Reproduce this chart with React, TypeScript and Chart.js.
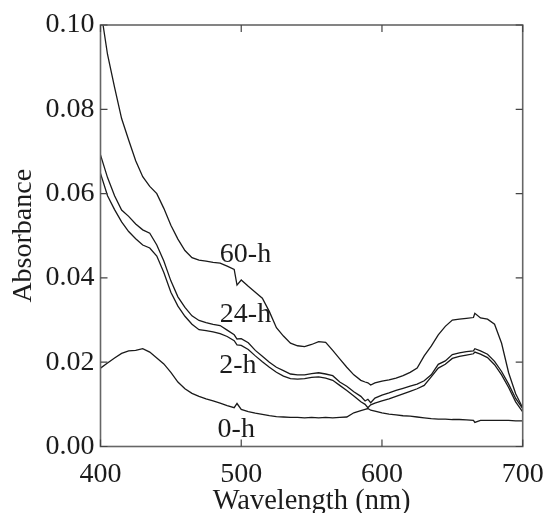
import React, { useEffect, useRef } from "react";
import { Chart, registerables } from "chart.js";

Chart.register(...registerables);

const wavelengths = [
  400, 405, 410, 415, 420, 425, 430, 435, 440, 445, 450, 455, 460, 465, 470, 475, 480, 485, 490, 495, 497,
  500, 505, 510, 515, 520, 525, 530, 535, 540, 545, 550, 555, 560, 565, 570, 575, 580, 585, 588, 590, 592,
  595, 600, 605, 610, 615, 620, 625, 630, 635, 640, 645, 650, 655, 660, 665, 666, 670, 675, 680, 685, 690, 695, 700,
];

const abs60h = [
  0.104, 0.093, 0.0852, 0.0778, 0.0727, 0.0678, 0.064, 0.0617, 0.06, 0.0565, 0.0525, 0.0492, 0.0465, 0.0448, 0.0442, 0.044, 0.0437, 0.0435, 0.0428, 0.042, 0.0383,
  0.0395, 0.038, 0.0366, 0.0352, 0.032, 0.0282, 0.0262, 0.0245, 0.0239, 0.0237, 0.0242, 0.0249, 0.0247, 0.0228, 0.0208, 0.0188, 0.017, 0.0157, 0.0153, 0.0151, 0.0146,
  0.0151, 0.0155, 0.0158, 0.0162, 0.0168, 0.0176, 0.0186, 0.0215, 0.0238, 0.0265, 0.0285, 0.03, 0.0302, 0.0304, 0.0306, 0.0316, 0.0305, 0.0302, 0.029, 0.0245, 0.0175, 0.0125, 0.0092,
];

const abs24h = [
  0.0692, 0.0638, 0.0595, 0.0561, 0.0546, 0.0528, 0.0514, 0.0506, 0.0478, 0.044, 0.0393, 0.0355, 0.033, 0.031, 0.0299, 0.0294, 0.029, 0.0287, 0.0276, 0.0265, 0.0255,
  0.0256, 0.0246, 0.0228, 0.0214, 0.02, 0.0188, 0.018, 0.0172, 0.017, 0.017, 0.0173, 0.0175, 0.0172, 0.0168, 0.0153, 0.0143, 0.013, 0.0119, 0.0108, 0.0112, 0.0104,
  0.0115, 0.0122, 0.0127, 0.0133, 0.0138, 0.0143, 0.0148, 0.0156, 0.017, 0.0195, 0.0203, 0.0218, 0.0222, 0.0225, 0.0227, 0.0232, 0.0227, 0.0219, 0.0202, 0.0178, 0.0148, 0.0114, 0.009,
];

const abs2h = [
  0.0648, 0.0595, 0.0562, 0.0533, 0.051, 0.0493, 0.0478, 0.0471, 0.0452, 0.0413, 0.0366, 0.0333, 0.0309, 0.029, 0.0277, 0.0275, 0.0272, 0.0268, 0.0261, 0.0251, 0.0241,
  0.024, 0.023, 0.0215, 0.0201, 0.0188, 0.0176, 0.0167, 0.0161, 0.016, 0.0161, 0.0164, 0.0165, 0.0162, 0.0157, 0.0145, 0.0133, 0.012, 0.0106, 0.01, 0.0092, 0.0099,
  0.0103, 0.0108, 0.0113, 0.0119, 0.0125, 0.0131, 0.0137, 0.0145, 0.0165, 0.0186, 0.0195, 0.0209, 0.0214, 0.0217, 0.022, 0.0224, 0.0219, 0.0211, 0.0194, 0.017, 0.014, 0.0106, 0.0082,
];

const abs0h = [
  0.0186, 0.0198, 0.021, 0.0221, 0.0227, 0.0228, 0.0232, 0.0224, 0.021, 0.0196, 0.0176, 0.0153, 0.0137, 0.0126, 0.0119, 0.0113, 0.0108, 0.0103, 0.0097, 0.0092, 0.0102,
  0.0088, 0.0083, 0.0079, 0.0076, 0.0073, 0.0071, 0.007, 0.0069, 0.0069, 0.0068, 0.0069, 0.0068, 0.0069, 0.0068, 0.0069, 0.007, 0.008, 0.0085, 0.0088, 0.009, 0.0086,
  0.0084, 0.008, 0.0077, 0.0075, 0.0073, 0.0072, 0.007, 0.0068, 0.0066, 0.0065, 0.0065, 0.0064, 0.0064, 0.0063, 0.0062, 0.0057, 0.0062, 0.0062, 0.0062, 0.0062, 0.0062, 0.0061, 0.0061,
];

const seriesNames = ["60-h", "24-h", "2-h", "0-h"];
const seriesValues = [abs60h, abs24h, abs2h, abs0h];

const labelTexts = ["60-h", "24-h", "2-h", "0-h"];
const labelWavelengths = [484.8, 484.8, 484.3, 483.2];
const labelAbsorbances = [0.0438, 0.0296, 0.0174, 0.0022];

const xTicks = [400, 500, 600, 700];
const yTicks = [0, 0.02, 0.04, 0.06, 0.08, 0.1];

const FONT = '"Liberation Serif", "Times New Roman", serif';
const TEXT = "#1c1c1c";

const framePlugin = {
  id: "frameTicks",
  afterDatasetsDraw(chart: any) {
    const { ctx, chartArea, scales } = chart;
    const { left, right, top, bottom } = chartArea;
    ctx.save();
    ctx.strokeStyle = "#666";
    ctx.lineWidth = 1.6;
    ctx.strokeRect(left, top, right - left, bottom - top);
    ctx.strokeStyle = "#444";
    ctx.lineWidth = 1.2;
    const len = 7;
    ctx.beginPath();
    xTicks.forEach((v) => {
      const x = scales.x.getPixelForValue(v);
      ctx.moveTo(x, bottom);
      ctx.lineTo(x, bottom - len);
      ctx.moveTo(x, top);
      ctx.lineTo(x, top + len);
    });
    yTicks.forEach((v) => {
      const y = scales.y.getPixelForValue(v);
      ctx.moveTo(left, y);
      ctx.lineTo(left + len, y);
      ctx.moveTo(right, y);
      ctx.lineTo(right - len, y);
    });
    ctx.stroke();
    ctx.fillStyle = TEXT;
    ctx.font = `28px ${FONT}`;
    ctx.textAlign = "left";
    ctx.textBaseline = "alphabetic";
    labelTexts.forEach((t, i) => {
      ctx.fillText(t, scales.x.getPixelForValue(labelWavelengths[i]), scales.y.getPixelForValue(labelAbsorbances[i]));
    });
    ctx.restore();
  },
};

export default function App() {
  const ref = useRef<HTMLCanvasElement | null>(null);
  useEffect(() => {
    if (!ref.current) return;
    const chart = new Chart(ref.current, {
      type: "line",
      data: {
        datasets: seriesValues.map((vals, i) => ({
          label: seriesNames[i],
          data: wavelengths.map((w, j) => ({ x: w, y: vals[j] })),
          borderColor: "#1a1a1a",
          borderWidth: 1.3,
          pointRadius: 0,
          tension: 0,
          fill: false,
        })),
      },
      options: {
        responsive: false,
        animation: false,
        devicePixelRatio: 1,
        layout: { padding: { top: 25, right: 25.3, left: 0, bottom: 0 } },
        plugins: { legend: { display: false }, tooltip: { enabled: false } },
        scales: {
          x: {
            type: "linear",
            min: 400,
            max: 700,
            afterBuildTicks: (s: any) => {
              s.ticks = xTicks.map((v) => ({ value: v }));
            },
            ticks: { font: { family: FONT, size: 28 }, color: TEXT, padding: 11, maxRotation: 0 },
            grid: { display: false, drawTicks: false },
            border: { display: false },
            title: {
              display: true,
              text: "Wavelength (nm)",
              font: { family: FONT, size: 28.5 },
              color: TEXT,
              padding: { top: 0, bottom: -6 },
            },
            afterFit: (s: any) => {
              s.height = 66.5;
              s.paddingLeft = 0;
              s.paddingRight = 0;
            },
          },
          y: {
            type: "linear",
            min: 0,
            max: 0.1,
            afterBuildTicks: (s: any) => {
              s.ticks = yTicks.map((v) => ({ value: v }));
            },
            ticks: {
              font: { family: FONT, size: 28 },
              color: TEXT,
              padding: 6,
              callback: (v: any) => Number(v).toFixed(2),
            },
            grid: { display: false, drawTicks: false },
            border: { display: false },
            title: {
              display: true,
              text: "Absorbance",
              font: { family: FONT, size: 28 },
              color: TEXT,
              padding: { top: 7, bottom: 0 },
            },
            afterFit: (s: any) => {
              s.width = 100.5;
              s.paddingTop = 0;
              s.paddingBottom = 0;
            },
          },
        },
      },
      plugins: [framePlugin],
    } as any);
    return () => chart.destroy();
  }, []);
  return (
    <div style={{ position: "absolute", left: 0, top: 0, width: 548, height: 513, background: "#fff" }}>
      <canvas ref={ref} width={548} height={513} style={{ width: 548, height: 513 }} />
    </div>
  );
}
